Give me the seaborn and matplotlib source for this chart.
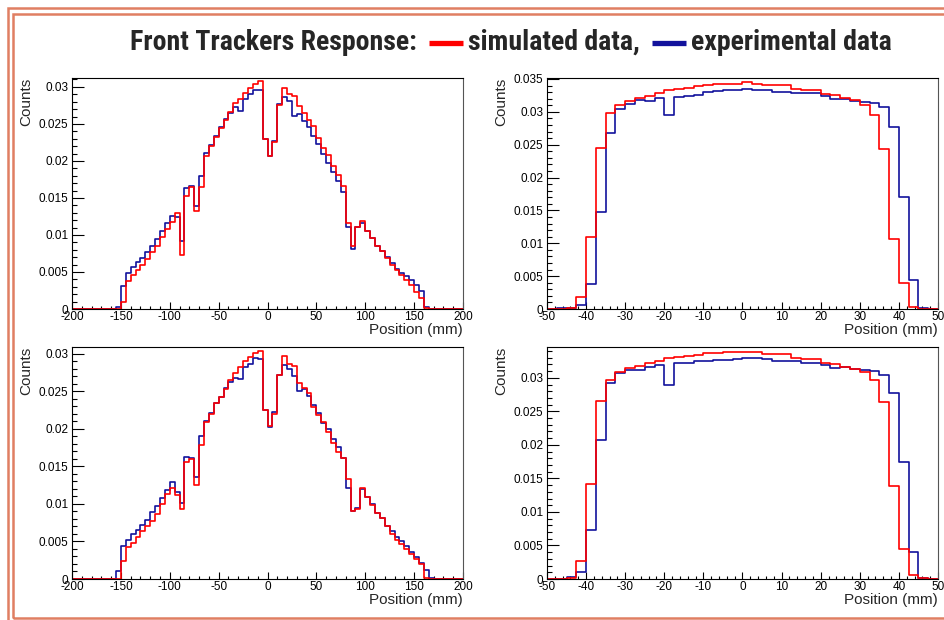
import numpy as np
import pandas as pd
import matplotlib
matplotlib.use("Agg")
import matplotlib.pyplot as plt
import seaborn as sns
from matplotlib import font_manager
from matplotlib.ticker import MultipleLocator, FuncFormatter
from matplotlib.patches import Rectangle
from matplotlib.lines import Line2D

# ---------------- data ----------------
wide_range, wide_bin = (-200, 200), 5.0       # 80 bins, Position (mm)
narrow_range, narrow_bin = (-50, 50), 2.5     # 40 bins, Position (mm)

# wide panels: values listed from bin starting at -155 mm, zeros elsewhere
tl_sim = [0.0, 0.00095, 0.00383, 0.00455, 0.00527, 0.00599, 0.0067, 0.0077, 0.0085, 0.0097,
          0.0108, 0.0118, 0.0130, 0.00725, 0.01527, 0.01649, 0.0132, 0.01644, 0.02072, 0.02207,
          0.02329, 0.02441, 0.02559, 0.02662, 0.0278, 0.02838, 0.02923, 0.02986, 0.03045, 0.03077,
          0.02297, 0.02063, 0.02252, 0.02761, 0.02986, 0.0291, 0.02883, 0.02739, 0.02649, 0.0255,
          0.02468, 0.02311, 0.02176, 0.02086, 0.01937, 0.01811, 0.01667, 0.01162, 0.00847, 0.01104,
          0.01185, 0.0105, 0.0096, 0.00847, 0.00779, 0.00689, 0.0059, 0.00532, 0.00455, 0.00387,
          0.0032, 0.0023, 0.00149, 0.0001]
tl_exp = [0.0003, 0.00306, 0.00486, 0.00568, 0.00635, 0.00689, 0.0077, 0.0085, 0.0095, 0.01054,
          0.01158, 0.01257, 0.01243, 0.00914, 0.01635, 0.01658, 0.01387, 0.0180, 0.02104, 0.0222,
          0.02333, 0.0246, 0.02568, 0.02649, 0.02725, 0.0268, 0.02842, 0.029, 0.02964, 0.02955,
          0.02297, 0.0207, 0.02275, 0.0277, 0.02865, 0.02815, 0.02613, 0.02635, 0.02536, 0.02455,
          0.02333, 0.02234, 0.02099, 0.01973, 0.01851, 0.01734, 0.01577, 0.01108, 0.00815, 0.01104,
          0.01162, 0.0105, 0.0096, 0.00856, 0.00788, 0.00703, 0.00622, 0.00545, 0.00486, 0.00441,
          0.00387, 0.00329, 0.00239, 0.0003]
bl_sim = [0.0, 0.0024, 0.00427, 0.00481, 0.00561, 0.00636, 0.00708, 0.00774, 0.00872, 0.00997,
          0.01126, 0.01206, 0.01117, 0.00926, 0.01553, 0.01593, 0.01246, 0.0178, 0.02092, 0.02199,
          0.02341, 0.02421, 0.02528, 0.02644, 0.02742, 0.02822, 0.02898, 0.02955, 0.03009, 0.03031,
          0.02252, 0.02039, 0.02194, 0.0272, 0.02973, 0.02866, 0.0284, 0.02617, 0.02541, 0.02475,
          0.02297, 0.02185, 0.02096, 0.01963, 0.01816, 0.01696, 0.01607, 0.01326, 0.00908, 0.00926,
          0.01206, 0.01095, 0.00984, 0.00881, 0.00806, 0.00703, 0.00605, 0.00516, 0.00463, 0.00405,
          0.00338, 0.00272, 0.00196, 0.00018, 0.00005]
bl_exp = [0.001, 0.0044, 0.00516, 0.00596, 0.00659, 0.00725, 0.00792, 0.00886, 0.0097, 0.01082,
          0.0118, 0.01286, 0.01162, 0.01015, 0.01629, 0.01616, 0.01362, 0.01905, 0.0211, 0.02208,
          0.02341, 0.0243, 0.0255, 0.0263, 0.02675, 0.02662, 0.02822, 0.02866, 0.02938, 0.02929,
          0.02252, 0.02021, 0.0223, 0.0272, 0.02853, 0.02795, 0.02706, 0.02506, 0.02528, 0.02439,
          0.02319, 0.02217, 0.02074, 0.01994, 0.0186, 0.01754, 0.01607, 0.01206, 0.00908, 0.00939,
          0.01193, 0.01095, 0.00997, 0.00881, 0.00806, 0.00712, 0.00636, 0.00561, 0.00503, 0.00436,
          0.0036, 0.00294, 0.00214, 0.00125, 0.00018]

# narrow panels: full 40 bins from -50 mm
tr_sim = [0.0, 0.0, 0.0002, 0.0019, 0.01096, 0.02445, 0.02978, 0.03099, 0.0317, 0.03206,
          0.03246, 0.03287, 0.03328, 0.03353, 0.03363, 0.03388, 0.03404, 0.03429, 0.03429, 0.03429,
          0.03454, 0.03424, 0.03404, 0.03404, 0.03404, 0.03353, 0.03338, 0.03328, 0.03272, 0.03257,
          0.03211, 0.03175, 0.03109, 0.02957, 0.0244, 0.0107, 0.00396, 0.0003, 0.0, 0.0]
tr_exp = [0.0, 0.0001, 0.0002, 0.0006, 0.0038, 0.01476, 0.02678, 0.03049, 0.0312, 0.03175,
          0.03165, 0.03211, 0.02952, 0.0322, 0.03235, 0.0325, 0.0330, 0.03312, 0.03328, 0.03338,
          0.03353, 0.03338, 0.03328, 0.03307, 0.03302, 0.03292, 0.03287, 0.03287, 0.03236, 0.03196,
          0.03201, 0.03165, 0.03145, 0.0313, 0.03074, 0.02765, 0.01699, 0.00441, 0.0001, 0.0]
br_sim = [0.0, 0.0, 0.0001, 0.00275, 0.01413, 0.02656, 0.0297, 0.0309, 0.0314, 0.03175,
          0.03215, 0.0325, 0.03295, 0.0331, 0.0333, 0.03344, 0.03364, 0.03364, 0.0339, 0.0339,
          0.0339, 0.0338, 0.03354, 0.03354, 0.03354, 0.033, 0.03285, 0.03285, 0.03215, 0.03205,
          0.0316, 0.03135, 0.0308, 0.02975, 0.02646, 0.01393, 0.00454, 0.00065, 0.0001, 0.0]
br_exp = [0.0, 0.0, 0.0003, 0.00105, 0.00724, 0.02077, 0.02925, 0.03065, 0.03115, 0.03115,
          0.0316, 0.0319, 0.02895, 0.03225, 0.03225, 0.03245, 0.03255, 0.0326, 0.03265, 0.03275,
          0.0329, 0.0329, 0.03275, 0.03255, 0.03245, 0.03245, 0.03225, 0.0322, 0.0319, 0.0315,
          0.03155, 0.03125, 0.0311, 0.031, 0.03045, 0.02775, 0.01742, 0.004, 0.0001, 0.0]

WIDE_LEAD = 9  # number of empty bins before -155 mm


def pad_wide(vals):
    return [0.0] * WIDE_LEAD + list(vals) + [0.0] * (80 - WIDE_LEAD - len(vals))


RED = "#ff0000"
BLUE = "#12129c"
FRAME = "#e07f62"

# ---------------- figure ----------------
sns.set_theme(style="white")
plt.rcParams['font.family'] = ['Liberation Sans', 'DejaVu Sans']

W, H = 945, 620
fig = plt.figure(figsize=(W / 100, H / 100), dpi=100)
fig.patch.set_facecolor("white")


def px_axes(x0, y0, x1, y1):
    return fig.add_axes([x0 / W, 1 - y1 / H, (x1 - x0) / W, (y1 - y0) / H])


def panel(ax, rng, bw, sim, exp, ymax, xmaj, xmin):
    n = len(sim)
    centers = rng[0] + bw * (np.arange(n) + 0.5)
    df = pd.DataFrame({
        "pos": np.concatenate([centers, centers]),
        "w": np.asarray(list(exp) + list(sim), dtype=float),
        "src": ["experimental"] * n + ["simulated"] * n,
    })
    # seaborn layers hue levels in reverse order -> simulated (red) ends up on top
    sns.histplot(data=df, x="pos", weights="w", hue="src",
                 hue_order=["simulated", "experimental"],
                 palette={"experimental": BLUE, "simulated": RED},
                 binwidth=bw, binrange=rng, element="step", fill=False,
                 linewidth=1.2, legend=False, ax=ax)
    ax.set_xlim(*rng)
    ax.set_ylim(0, ymax)
    ax.xaxis.set_major_locator(MultipleLocator(xmaj))
    ax.xaxis.set_minor_locator(MultipleLocator(xmin))
    ax.yaxis.set_major_locator(MultipleLocator(0.005))
    ax.yaxis.set_minor_locator(MultipleLocator(0.001))
    fmt = FuncFormatter(lambda v, p: f"{v:g}")
    ax.xaxis.set_major_formatter(fmt)
    ax.yaxis.set_major_formatter(fmt)
    ax.tick_params(axis="both", which="both", direction="in", top=False, right=False,
                   bottom=True, left=True, colors="black", labelsize=8.5, width=0.8)
    ax.tick_params(axis="y", which="major", length=8.6, pad=2.5)
    ax.tick_params(axis="y", which="minor", length=3.6)
    ax.tick_params(axis="x", which="major", length=5, pad=1.5)
    ax.tick_params(axis="x", which="minor", length=2.5)
    for s in ax.spines.values():
        s.set_visible(True)
        s.set_color("black")
        s.set_linewidth(0.8)
    ax.spines["right"].set_color("#555555")
    ax.set_facecolor("white")
    ax.grid(False)
    ax.set_xlabel("Position (mm)", loc="right", fontsize=11)
    ax.set_ylabel("Counts", loc="top", fontsize=11)
    ax.xaxis.set_label_coords(1.0, -0.062)
    ax.yaxis.set_label_coords(-0.098, 1.0)


ax_tl = px_axes(72, 78, 463, 309)
ax_tr = px_axes(547, 78, 938, 309)
ax_bl = px_axes(72, 347, 463, 579)
ax_br = px_axes(547, 347, 938, 579)

panel(ax_tl, wide_range, wide_bin, pad_wide(tl_sim), pad_wide(tl_exp), 0.0312, 50, 10)
panel(ax_tr, narrow_range, narrow_bin, tr_sim, tr_exp, 0.03515, 10, 2)
panel(ax_bl, wide_range, wide_bin, pad_wide(bl_sim), pad_wide(bl_exp), 0.0309, 50, 10)
panel(ax_br, narrow_range, narrow_bin, br_sim, br_exp, 0.0346, 10, 2)

# ---------------- decorative frame (extends past right/bottom edge) ----------------
for (x0, y0, x1, y1) in [(8, 8, 960, 640), (13, 13.5, 955, 618)]:
    fig.patches.append(Rectangle((x0 / W, 1 - y1 / H), (x1 - x0) / W, (y1 - y0) / H,
                                 transform=fig.transFigure, fill=False, ec=FRAME, lw=1.8))

# ---------------- title with colored legend dashes ----------------
available = {f.name for f in font_manager.fontManager.ttflist}
title_family = next((f for f in ["Liberation Sans Narrow", "Roboto Condensed",
                                 "Open Sans Condensed", "Lato"] if f in available), "DejaVu Sans")

title_parts = ["Front Trackers Response:", "simulated data,", "experimental data"]
dash_colors = [RED, BLUE]
x_start, target_w = 130, 763
gap_before, dash_w, gap_after = 12, 34, 5
baseline_y = 50
renderer = fig.canvas.get_renderer()
tfont = dict(family=[title_family, "DejaVu Sans"], weight="bold")

probe_fs = 16
widths = []
for t in title_parts:
    tt = fig.text(0, 0, t, fontsize=probe_fs, **tfont)
    widths.append(tt.get_window_extent(renderer).width)
    tt.remove()
scale = (target_w - 2 * (gap_before + dash_w + gap_after)) / sum(widths)
fs = probe_fs * scale

x = x_start
for i, t in enumerate(title_parts):
    tt = fig.text(x / W, 1 - baseline_y / H, t, fontsize=fs, va="baseline", ha="left", **tfont)
    x += tt.get_window_extent(renderer).width
    if i < len(dash_colors):
        x += gap_before
        fig.add_artist(Line2D([x / W, (x + dash_w) / W], [1 - 42.5 / H, 1 - 42.5 / H],
                              transform=fig.transFigure, color=dash_colors[i], lw=3.8,
                              solid_capstyle="butt"))
        x += dash_w + gap_after

fig.savefig("out.png", dpi=100)
